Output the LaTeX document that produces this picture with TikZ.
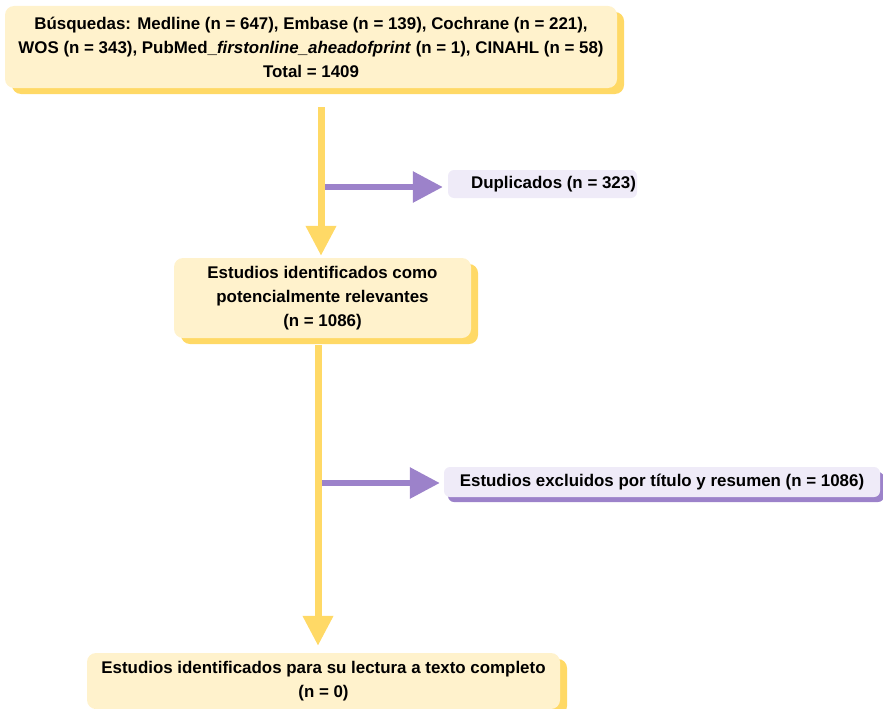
\documentclass[tikz,border=0pt]{standalone}
\usepackage{fontspec}
\setmainfont{Liberation Sans}
\usepackage{tikz}
\usetikzlibrary{arrows.meta}
\usetikzlibrary{shadows}

\definecolor{cream}{HTML}{FFF2CC}
\definecolor{ygold}{HTML}{FFD966}
\definecolor{lilac}{HTML}{9C82CA}
\definecolor{lavender}{HTML}{EFEBF8}

\begin{document}
\begin{tikzpicture}[x=1pt,y=-1pt,
    font=\fontsize{16.9}{24}\selectfont\bfseries,
    ybox/.style={rounded corners=9pt, fill=cream, align=center, inner sep=0pt,
        drop shadow={shadow xshift=7pt, shadow yshift=-6pt, fill=ygold, opacity=1}},
    pbox/.style={rounded corners=6pt, fill=lavender, align=center, inner sep=0pt},
    yarrow/.style={draw=ygold, line width=7pt, -{Triangle[width=29pt,length=30pt]}},
    parrow/.style={draw=lilac, line width=6pt, -{Triangle[width=30pt,length=30pt]}}]
                    \useasboundingbox (0,0) rectangle (883,709);
                    \coordinate (S) at (311,47);
                    \coordinate (I) at (322.5,298);
                    \coordinate (F) at (323.5,681);
                    \coordinate (D) at (542.5,184);
                    \coordinate (E) at (662,482);
                    \node[ybox, minimum width=612pt, minimum height=82pt] (search) at (S)
                        {B\'usquedas: Medline (n = 647), Embase (n = 139), Cochrane (n = 221),\\
                         WOS (n = 343), PubMed\_\textit{firstonline\_aheadofprint} (n = 1), CINAHL (n = 58)\\
                         Total = 1409};
                    \node[ybox, minimum width=297pt, minimum height=80pt] (ident) at (I)
                        {Estudios identificados como\\potencialmente relevantes\\(n = 1086)};
                    \node[ybox, minimum width=473pt, minimum height=56pt] (full) at (F)
                        {Estudios identificados para su lectura a texto completo\\(n = 0)};
                    \node[pbox, minimum width=189pt, minimum height=28pt] (dup) at (D)
                        {\hspace*{22pt}Duplicados (n = 323)};
                    \node[pbox, minimum width=436pt, minimum height=30pt,
                        drop shadow={shadow xshift=4pt, shadow yshift=-5pt, fill=lilac, opacity=1}] (excl) at (E)
                        {Estudios excluidos por t\'itulo y resumen (n = 1086)};
                    \coordinate (B1) at (321,187);
                    \coordinate (B2) at (318,483);
                    \draw[parrow, shorten >=5pt] (B1) -- (B1 -| dup.west);
                    \draw[parrow, shorten >=4pt] (B2) -- (B2 -| excl.west);
                    \draw[yarrow] ([xshift=10pt,yshift=-19pt]search.south) -- ([xshift=-1.5pt,yshift=2pt]ident.north);
                    \draw[yarrow] ([xshift=-4.5pt,yshift=-7pt]ident.south) -- ([xshift=-5.5pt,yshift=7pt]full.north);
                \end{tikzpicture}
\end{document}
